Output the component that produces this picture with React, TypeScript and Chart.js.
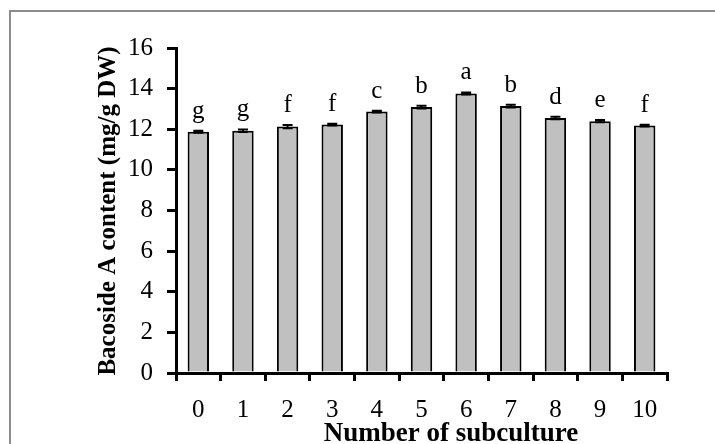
import { useEffect, useRef } from "react";
import { Chart, registerables } from "chart.js";

Chart.register(...registerables);

const categories = ["0", "1", "2", "3", "4", "5", "6", "7", "8", "9", "10"];
const values = [11.88, 11.93, 12.13, 12.23, 12.87, 13.09, 13.76, 13.14, 12.55, 12.4, 12.18];
const errors = [0.05, 0.06, 0.08, 0.04, 0.04, 0.07, 0.05, 0.07, 0.06, 0.05, 0.04];
const letters = ["g", "g", "f", "f", "c", "b", "a", "b", "d", "e", "f"];
const yMin = 0;
const yMax = 16;
const yStep = 2;
const yTitle = "Bacoside A content (mg/g DW)";
const xTitle = "Number of subculture";

const SERIF = "'Liberation Serif', 'Times New Roman', serif";

export default function App() {
  const ref = useRef<HTMLCanvasElement | null>(null);

  useEffect(() => {
    if (!ref.current) return;

    const overlay = {
      id: "overlay",
      beforeDraw(chart: any) {
        const ctx = chart.ctx;
        ctx.save();
        ctx.fillStyle = "#ffffff";
        ctx.fillRect(0, 0, chart.width, chart.height);
        ctx.strokeStyle = "#8c8c8c";
        ctx.lineWidth = 2;
        ctx.strokeRect(10, 11, 900, 900);
        ctx.restore();
      },
      afterDatasetsDraw(chart: any) {
        const ctx = chart.ctx;
        const meta = chart.getDatasetMeta(0);
        const ys = chart.scales.y;
        ctx.save();
        meta.data.forEach((bar: any, i: number) => {
          const x = bar.x;
          const top = ys.getPixelForValue(values[i] + errors[i]);
          const bot = ys.getPixelForValue(values[i] - errors[i]);
          ctx.strokeStyle = "#000";
          ctx.lineWidth = 2;
          ctx.beginPath();
          ctx.moveTo(x, top);
          ctx.lineTo(x, bot);
          ctx.moveTo(x - 5, top);
          ctx.lineTo(x + 5, top);
          ctx.moveTo(x - 5, bot);
          ctx.lineTo(x + 5, bot);
          ctx.stroke();
          ctx.fillStyle = "#000";
          ctx.font = `25px ${SERIF}`;
          ctx.textAlign = "center";
          ctx.textBaseline = "alphabetic";
          ctx.fillText(letters[i], x, top - 13);
        });
        ctx.restore();
      },
      afterDraw(chart: any) {
        const ctx = chart.ctx;
        ctx.save();
        ctx.fillStyle = "#000";
        ctx.font = `bold 25px ${SERIF}`;
        ctx.textAlign = "center";
        ctx.textBaseline = "middle";
        ctx.translate(109, 211);
        ctx.rotate(-Math.PI / 2);
        ctx.fillText(yTitle, 0, 0);
        ctx.restore();
        ctx.save();
        ctx.fillStyle = "#000";
        ctx.font = `bold 27px ${SERIF}`;
        ctx.textAlign = "center";
        ctx.textBaseline = "alphabetic";
        ctx.fillText(xTitle, 451, 441);
        ctx.restore();
      },
    };

    const chart = new Chart(ref.current, {
      type: "bar",
      data: {
        labels: categories,
        datasets: [
          {
            data: values,
            backgroundColor: "#c0c0c0",
            borderColor: "#000000",
            borderWidth: 2,
            barPercentage: 0.48,
            categoryPercentage: 1,
          },
        ],
      },
      options: {
        animation: false,
        responsive: true,
        maintainAspectRatio: false,
        devicePixelRatio: 1,
        layout: { padding: { top: 48, right: 48, left: 0, bottom: 0 } },
        plugins: {
          legend: { display: false },
          tooltip: { enabled: false },
          title: { display: false },
        },
        scales: {
          x: {
            offset: true,
            grid: {
              offset: true,
              drawOnChartArea: false,
              drawTicks: true,
              tickLength: 8,
              lineWidth: 3,
              color: "#000",
            },
            border: { display: true, color: "#000", width: 3 },
            ticks: {
              color: "#000",
              font: { family: SERIF, size: 25 },
              padding: 14,
              maxRotation: 0,
              autoSkip: false,
            },
            afterFit(s: any) {
              s.height = 71;
            },
          },
          y: {
            min: yMin,
            max: yMax,
            grid: {
              drawOnChartArea: false,
              drawTicks: true,
              tickLength: 9,
              lineWidth: 3,
              color: "#000",
            },
            border: { display: true, color: "#000", width: 3 },
            ticks: {
              stepSize: yStep,
              color: "#000",
              font: { family: SERIF, size: 25 },
              padding: 14,
            },
            afterFit(s: any) {
              s.width = 176;
            },
          },
        },
      },
      plugins: [overlay],
    });

    return () => chart.destroy();
  }, []);

  return (
    <div style={{ position: "fixed", left: 0, top: 0, width: 715, height: 444, background: "#fff" }}>
      <canvas ref={ref} />
    </div>
  );
}
